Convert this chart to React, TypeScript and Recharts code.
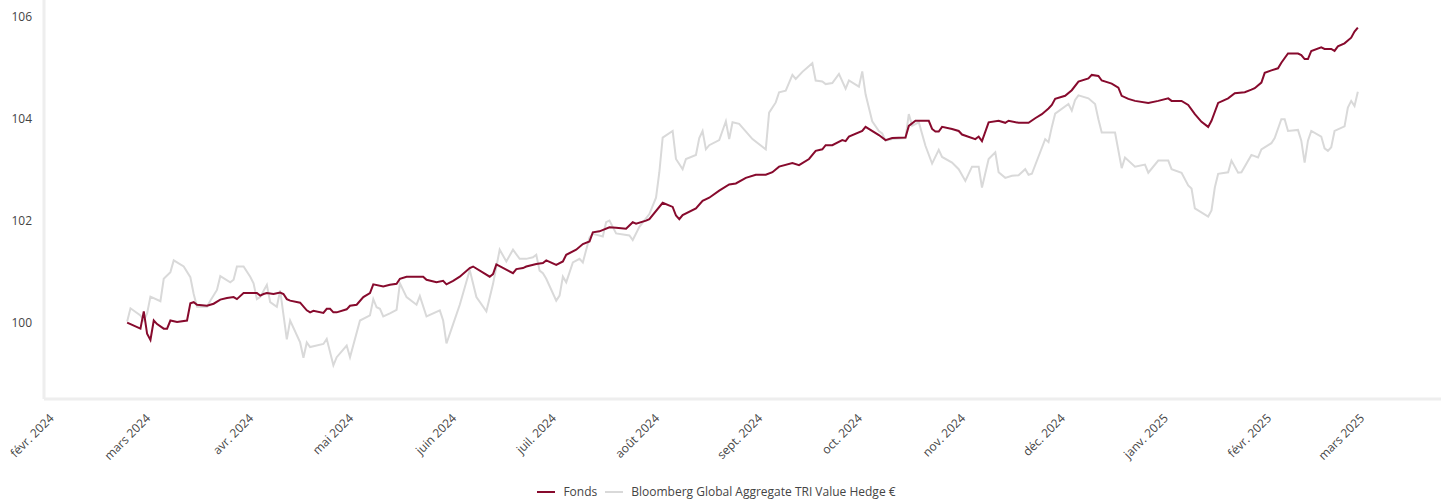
import React from 'react';
import { LineChart, Line, XAxis, YAxis, Legend } from 'recharts';

// days counted from 1 Feb 2024
const fondsDay = [23, 27, 28, 29, 30, 31, 32, 34, 35, 36, 38, 41, 42, 43, 44, 47, 49, 51, 53, 55, 56, 58, 62, 63, 64, 65, 67, 69, 70, 71, 72, 75, 77, 78, 79, 82, 83, 84, 85, 86, 89, 90, 92, 94, 96, 97, 100, 102, 104, 105, 107, 112, 113, 116, 118, 119, 121, 123, 126, 127, 132, 133, 134, 139, 140, 142, 143, 146, 148, 149, 152, 154, 155, 158, 160, 162, 163, 165, 168, 170, 173, 175, 176, 179, 180, 184, 187, 188, 189, 190, 194, 196, 198, 201, 204, 206, 209, 212, 215, 217, 219, 223, 225, 228, 230, 232, 233, 235, 238, 239, 240, 244, 245, 249, 251, 253, 257, 258, 260, 264, 265, 266, 267, 268, 271, 273, 274, 278, 279, 280, 282, 285, 287, 288, 291, 294, 296, 298, 300, 301, 302, 305, 307, 309, 312, 313, 315, 316, 319, 321, 322, 324, 326, 330, 333, 336, 337, 340, 342, 344, 346, 348, 349, 351, 354, 356, 359, 361, 362, 364, 365, 367, 369, 370, 372, 375, 376, 377, 378, 379, 382, 383, 385, 386, 387, 389, 391, 392, 393];
const fondsValue = [100.0, 99.88, 100.22, 99.78, 99.66, 100.04, 99.97, 99.88, 99.88, 100.04, 100.01, 100.04, 100.38, 100.4, 100.35, 100.33, 100.37, 100.45, 100.48, 100.5, 100.46, 100.58, 100.58, 100.53, 100.56, 100.58, 100.56, 100.59, 100.56, 100.46, 100.43, 100.39, 100.24, 100.2, 100.23, 100.19, 100.27, 100.27, 100.2, 100.2, 100.26, 100.33, 100.35, 100.5, 100.58, 100.75, 100.71, 100.74, 100.76, 100.86, 100.9, 100.9, 100.84, 100.79, 100.82, 100.75, 100.82, 100.9, 101.07, 101.1, 100.9, 100.95, 101.14, 100.97, 101.05, 101.07, 101.1, 101.15, 101.17, 101.22, 101.13, 101.2, 101.33, 101.43, 101.54, 101.59, 101.77, 101.79, 101.87, 101.86, 101.84, 101.97, 101.94, 102.0, 102.03, 102.35, 102.27, 102.1, 102.03, 102.11, 102.24, 102.39, 102.45, 102.59, 102.71, 102.73, 102.84, 102.9, 102.9, 102.95, 103.06, 103.13, 103.09, 103.21, 103.37, 103.4, 103.48, 103.48, 103.58, 103.56, 103.65, 103.76, 103.84, 103.68, 103.58, 103.62, 103.63, 103.86, 103.96, 103.96, 103.8, 103.75, 103.75, 103.84, 103.8, 103.76, 103.69, 103.6, 103.65, 103.56, 103.93, 103.96, 103.92, 103.96, 103.92, 103.92, 104.01, 104.09, 104.2, 104.27, 104.39, 104.45, 104.56, 104.73, 104.79, 104.86, 104.84, 104.75, 104.69, 104.61, 104.45, 104.39, 104.35, 104.31, 104.35, 104.4, 104.35, 104.35, 104.27, 104.09, 103.94, 103.84, 103.96, 104.31, 104.4, 104.5, 104.52, 104.57, 104.6, 104.71, 104.9, 104.95, 104.99, 105.1, 105.28, 105.28, 105.25, 105.17, 105.17, 105.33, 105.4, 105.37, 105.37, 105.33, 105.42, 105.48, 105.59, 105.71, 105.79];

const benchDay = [23, 24, 27, 28, 29, 30, 33, 34, 36, 37, 40, 42, 43, 44, 47, 48, 50, 51, 54, 55, 56, 58, 60, 61, 62, 63, 65, 66, 68, 69, 71, 72, 75, 76, 77, 78, 82, 83, 85, 86, 89, 90, 93, 96, 97, 98, 99, 100, 102, 104, 105, 107, 110, 111, 113, 117, 118, 119, 121, 123, 126, 128, 131, 133, 135, 137, 139, 141, 143, 145, 146, 147, 148, 149, 152, 153, 154, 155, 157, 159, 160, 162, 163, 166, 167, 168, 170, 174, 175, 177, 180, 182, 183, 184, 187, 188, 190, 191, 194, 195, 196, 197, 198, 201, 203, 204, 205, 207, 211, 215, 216, 218, 219, 221, 223, 224, 226, 229, 230, 232, 233, 235, 237, 239, 240, 243, 244, 245, 247, 249, 250, 251, 253, 257, 258, 259, 261, 263, 265, 267, 268, 271, 273, 275, 277, 279, 280, 282, 284, 285, 287, 289, 291, 293, 294, 295, 299, 300, 301, 302, 306, 307, 308, 309, 312, 314, 315, 316, 320, 322, 323, 326, 329, 330, 333, 336, 337, 340, 342, 343, 344, 348, 349, 350, 351, 354, 355, 357, 358, 361, 363, 364, 367, 368, 370, 371, 372, 375, 376, 377, 378, 379, 382, 383, 384, 385, 386, 389, 390, 391, 392, 393];
const benchValue = [100.02, 100.28, 100.14, 100.04, 100.18, 100.51, 100.42, 100.86, 100.99, 101.22, 101.1, 100.89, 100.56, 100.31, 100.31, 100.43, 100.64, 100.91, 100.79, 100.84, 101.1, 101.1, 100.9, 100.77, 100.46, 100.5, 100.74, 100.4, 100.31, 100.63, 99.67, 100.04, 99.61, 99.31, 99.61, 99.52, 99.58, 99.68, 99.16, 99.32, 99.55, 99.32, 100.04, 100.14, 100.46, 100.3, 100.27, 100.12, 100.18, 100.25, 100.77, 100.5, 100.35, 100.52, 100.12, 100.24, 100.04, 99.59, 99.97, 100.35, 101.03, 100.5, 100.22, 100.76, 101.43, 101.2, 101.43, 101.25, 101.25, 101.28, 101.33, 101.02, 100.97, 100.86, 100.43, 100.53, 100.9, 100.79, 101.18, 101.25, 101.18, 101.67, 101.74, 101.69, 101.97, 102.0, 101.75, 101.71, 101.62, 101.88, 102.13, 102.45, 102.95, 103.63, 103.76, 103.21, 103.01, 103.21, 103.29, 103.62, 103.76, 103.4, 103.48, 103.58, 103.95, 103.6, 103.93, 103.9, 103.6, 103.4, 104.12, 104.32, 104.52, 104.55, 104.86, 104.78, 104.92, 105.09, 104.75, 104.73, 104.68, 104.7, 104.88, 104.59, 104.75, 104.63, 104.93, 104.48, 103.95, 103.76, 103.71, 103.57, 103.6, 103.62, 104.09, 103.86, 103.93, 103.47, 103.12, 103.39, 103.25, 103.14, 103.01, 102.78, 103.06, 103.06, 102.65, 103.21, 103.34, 102.95, 102.84, 102.88, 102.89, 103.01, 102.9, 102.92, 103.6, 103.54, 103.84, 104.1, 104.29, 104.16, 104.37, 104.46, 104.4, 104.29, 103.99, 103.73, 103.73, 103.03, 103.24, 103.06, 103.1, 102.94, 103.18, 103.18, 103.01, 102.94, 102.69, 102.63, 102.24, 102.08, 102.2, 102.65, 102.92, 102.95, 103.18, 102.94, 102.95, 103.29, 103.24, 103.4, 103.52, 103.62, 103.99, 103.99, 103.76, 103.78, 103.57, 103.14, 103.57, 103.76, 103.65, 103.42, 103.37, 103.44, 103.76, 103.85, 104.22, 104.35, 104.25, 104.53];

const monthTicks = [0, 29, 60, 90, 121, 151, 182, 213, 243, 274, 304, 335, 366, 394];
const monthLabels = ['févr. 2024', 'mars 2024', 'avr. 2024', 'mai 2024', 'juin 2024', 'juil. 2024', 'août 2024', 'sept. 2024', 'oct. 2024', 'nov. 2024', 'déc. 2024', 'janv. 2025', 'févr. 2025', 'mars 2025'];
const yTicks = [100, 102, 104, 106];

const fondsData = fondsDay.map((day, i) => ({ day, value: fondsValue[i] }));
const benchData = benchDay.map((day, i) => ({ day, value: benchValue[i] }));

const FONT = '"Open Sans", sans-serif';
const TEXT = '#444444';
const RED = '#870a2d';
const GREY = '#d9d9d9';

const MonthTick = (props: any) => {
  const { x, y, payload } = props;
  const label = monthLabels[monthTicks.indexOf(payload.value)];
  const tx = x + 4;
  const ty = y + 12;
  return (
    <text x={tx} y={ty} transform={`rotate(-45 ${tx} ${ty})`} textAnchor="end" fill={TEXT} fontSize={12} fontFamily={FONT}>
      {label}
    </text>
  );
};

const LegendContent = () => (
  <div style={{ display: 'flex', justifyContent: 'center', alignItems: 'center', height: 23, fontFamily: FONT, fontSize: 12, color: TEXT, transform: 'translate(-4px, 1px)' }}>
    <span style={{ width: 18, height: 2, background: RED, marginRight: 8 }} />
    <span style={{ marginRight: 8 }}>Fonds</span>
    <span style={{ width: 18, height: 2, background: GREY, marginRight: 8 }} />
    <span>Bloomberg Global Aggregate TRI Value Hedge €</span>
  </div>
);

export default function App() {
  return (
    <div style={{ position: 'absolute', left: 0, top: 0, background: '#fff' }}>
      <LineChart width={1450} height={502} margin={{ top: 0, right: 9, bottom: 0, left: 0 }}>
        <XAxis
          dataKey="day"
          type="number"
          domain={[-2, 418]}
          ticks={monthTicks}
          interval={0}
          tick={<MonthTick />}
          tickLine={false}
          axisLine={{ stroke: '#eeeeee', strokeWidth: 3 }}
          height={80}
          allowDuplicatedCategory={false}
        />
        <YAxis
          type="number"
          domain={[98.5, 106.33]}
          ticks={yTicks}
          width={44}
          tickLine={false}
          tickMargin={6}
          axisLine={{ stroke: '#eeeeee', strokeWidth: 3 }}
          tick={{ fill: TEXT, fontSize: 12, fontFamily: FONT }}
        />
        <Legend verticalAlign="bottom" height={23} content={<LegendContent />} />
        <Line data={benchData} dataKey="value" name="Bloomberg Global Aggregate TRI Value Hedge €" stroke={GREY} strokeWidth={2} dot={false} isAnimationActive={false} />
        <Line data={fondsData} dataKey="value" name="Fonds" stroke={RED} strokeWidth={2} dot={false} isAnimationActive={false} />
      </LineChart>
    </div>
  );
}
